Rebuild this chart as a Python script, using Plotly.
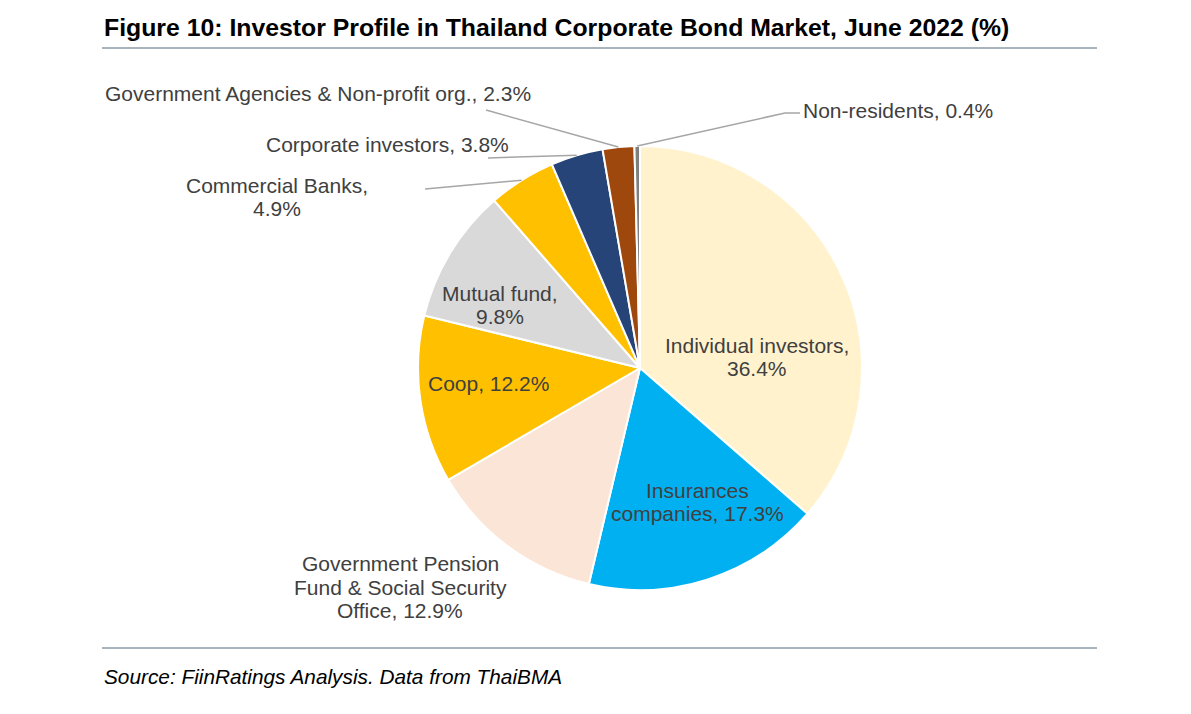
import math
import plotly.graph_objects as go

# ---- data ----
categories = [
    "Individual investors", "Insurances companies",
    "Government Pension Fund & Social Security Office", "Coop",
    "Mutual fund", "Commercial Banks", "Corporate investors",
    "Government Agencies & Non-profit org.", "Non-residents",
]
shares = [36.4, 17.3, 12.9, 12.2, 9.8, 4.9, 3.8, 2.3, 0.4]
label_texts = [
    "Individual investors,<br>36.4%",
    "Insurances<br>companies, 17.3%",
    "Government Pension<br>Fund & Social Security<br>Office, 12.9%",
    "Coop, 12.2%",
    "Mutual fund,<br>9.8%",
    "Commercial Banks,<br>4.9%",
    "Corporate investors, 3.8%",
    "Government Agencies & Non-profit org., 2.3%",
    "Non-residents, 0.4%",
]
colors = ["#FFF2CC", "#00B0F0", "#FBE5D6", "#FFC000", "#D9D9D9",
          "#FFC000", "#264478", "#9E480E", "#7F7F7F"]

# ---- layout (pixels, as seen in the page) ----
W, H = 1191, 714
OFF = 8  # default body margin of the html page
CX, CY, R = 640, 368, 222
FONT = "Liberation Sans, Arial, sans-serif"
TXT = "#404040"
LINE_H = 23.5

def px(x):
    return (x - OFF) / W

def py(y):
    return 1 - (y - OFF) / H

# label positions (pixel centre of the text block)
label_pos = [
    (757, 357), (697, 502), (400, 587), (488, 383), (500, 305),
    (277, 197), (387, 144), (318, 93), (898, 111),
]
# leader-line start points for outside labels (index -> pixel points)
leader_start = {5: [(425, 189)], 6: [(488, 158)], 7: [(486, 110)],
                8: [(800, 113), (785, 113)]}

fig = go.Figure(go.Pie(
    values=shares, labels=categories, sort=False, direction="clockwise",
    rotation=0, marker=dict(colors=colors, line=dict(color="white", width=2)),
    textinfo="none", hoverinfo="label+percent", showlegend=False,
    domain=dict(x=[px(CX - R), px(CX + R)], y=[py(CY + R), py(CY - R)]),
))

total = sum(shares)
cum = 0.0
mids = []
for v in shares:
    mids.append((cum + v / 2) / total)
    cum += v

shapes = []
for i, pts in leader_start.items():
    th = 2 * math.pi * mids[i]
    ex, ey = CX + R * math.sin(th), CY - R * math.cos(th)
    allpts = pts + [(ex, ey)]
    path = "M " + " L ".join(f"{px(x):.5f},{py(y):.5f}" for x, y in allpts)
    shapes.append(dict(type="path", path=path, xref="paper", yref="paper",
                       line=dict(color="#A6A6A6", width=1.5)))

for yy in (48, 648):
    shapes.append(dict(type="line", xref="paper", yref="paper",
                       x0=px(102), x1=px(1097), y0=py(yy), y1=py(yy),
                       line=dict(color="#52687A", width=1)))

annotations = []
for t, (x, y) in zip(label_texts, label_pos):
    lines = t.split("<br>")
    n = len(lines)
    for k, ln in enumerate(lines):
        yy = y + (k - (n - 1) / 2) * LINE_H
        annotations.append(dict(text=ln, x=px(x), y=py(yy), xref="paper", yref="paper",
                                showarrow=False, xanchor="center", yanchor="middle",
                                font=dict(family=FONT, size=21, color=TXT)))

annotations.append(dict(
    text="<b>Figure 10: Investor Profile in Thailand Corporate Bond Market, June 2022 (%)</b>",
    x=px(102), y=py(27), xref="paper", yref="paper", showarrow=False,
    xanchor="left", yanchor="middle", font=dict(family=FONT, size=24.8, color="#000000")))
annotations.append(dict(
    text="<i>Source: FiinRatings Analysis. Data from ThaiBMA</i>",
    x=px(102), y=py(676), xref="paper", yref="paper", showarrow=False,
    xanchor="left", yanchor="middle", font=dict(family=FONT, size=20.8, color="#000000")))

fig.update_layout(
    width=W, height=H, margin=dict(l=0, r=0, t=0, b=0),
    paper_bgcolor="white", plot_bgcolor="white",
    shapes=shapes, annotations=annotations,
)

fig.write_html("out.html")
